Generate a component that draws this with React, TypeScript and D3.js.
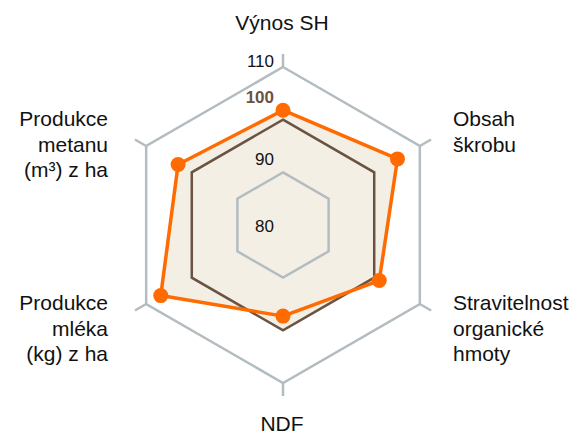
import React from "react";
import * as d3 from "d3";

const categories: string[][] = [
  ["Výnos SH"],
  ["Obsah", "škrobu"],
  ["Stravitelnost", "organické", "hmoty"],
  ["NDF"],
  ["Produkce", "mléka", "(kg) z ha"],
  ["Produkce", "metanu", "(m³) z ha"],
];
const seriesValues: number[] = [101.8, 105.1, 101.1, 97.3, 106.8, 103.0];
const baselineValues: number[] = [100, 100, 100, 100, 100, 100];
const gridLevels: number[] = [90, 110];
const tickLabels: number[] = [110, 100, 90, 80];

const W = 574;
const H = 435;
const cx = 283;
const cy = 225;
const R = 158;
const FONT = "'Liberation Sans', Arial, Helvetica, sans-serif";

export default function App() {
  const r = d3.scaleLinear().domain([80, 110]).range([0, R]);
  const n = categories.length;
  const angle = d3
    .scaleLinear()
    .domain([0, n])
    .range([-Math.PI / 2, (3 * Math.PI) / 2]);
  const pt = (i: number, v: number): [number, number] => [
    cx + r(v) * Math.cos(angle(i)),
    cy + r(v) * Math.sin(angle(i)),
  ];
  const line = d3.line<[number, number]>().curve(d3.curveLinearClosed);
  const poly = (vals: number[]) => line(vals.map((v, i) => pt(i, v)))!;

  const gray = "#b3bcc1";
  const brown = "#6b5343";
  const orange = "#ff6b00";
  const beige = "#f4efe4";

  const labelInfo = categories.map((lines, i) => {
    const a = angle(i);
    const c = Math.cos(a);
    let anchor = "middle";
    if (c > 0.1) anchor = "start";
    else if (c < -0.1) anchor = "end";
    return { lines, anchor, a };
  });

  const tickDy: Record<number, number> = { 110: 0, 100: -17, 90: -7, 80: 7 };

  return (
    <svg
      width={W}
      height={H}
      style={{ position: "absolute", left: 0, top: 0, background: "#fff" }}
      fontFamily={FONT}
    >
      <path d={poly(seriesValues)} fill={beige} stroke="none" />
      <path d={poly(baselineValues)} fill={beige} stroke="none" />
      {gridLevels.map((g) => (
        <path
          key={g}
          d={poly(categories.map(() => g))}
          fill="none"
          stroke={gray}
          strokeWidth={2.5}
        />
      ))}
      {categories.map((_, i) => {
        const [x1, y1] = pt(i, 110);
        const ext = r.invert(R + 13);
        const [x2, y2] = pt(i, ext);
        return (
          <line
            key={i}
            x1={x1}
            y1={y1}
            x2={x2}
            y2={y2}
            stroke={gray}
            strokeWidth={2.5}
          />
        );
      })}
      <path
        d={poly(baselineValues)}
        fill="none"
        stroke={brown}
        strokeWidth={2.5}
        strokeLinejoin="miter"
      />
      <path
        d={poly(seriesValues)}
        fill="none"
        stroke={orange}
        strokeWidth={3.5}
        strokeLinejoin="round"
      />
      {seriesValues.map((v, i) => {
        const [x, y] = pt(i, v);
        return <circle key={i} cx={x} cy={y} r={7.5} fill={orange} />;
      })}
      {tickLabels.map((t) => (
        <text
          key={t}
          x={cx - 9}
          y={cy - r(t) + tickDy[t]}
          textAnchor="end"
          fontSize={17}
          fontWeight={t === 100 ? "bold" : "normal"}
          fill={t === 100 ? brown : "#111"}
        >
          {t}
        </text>
      ))}
      <text x={cx - 1} y={30} textAnchor="middle" fontSize={21} fill="#111">
        {categories[0][0]}
      </text>
      <text x={cx - 1} y={431} textAnchor="middle" fontSize={21} fill="#111">
        {categories[3][0]}
      </text>
      {[1, 2].map((i) => (
        <text
          key={i}
          x={453}
          y={i === 1 ? 126 : 310}
          textAnchor="start"
          fontSize={21}
          fill="#111"
        >
          {labelInfo[i].lines.map((l, k) => (
            <tspan key={k} x={453} dy={k === 0 ? 0 : 25.5}>
              {l}
            </tspan>
          ))}
        </text>
      ))}
      {[4, 5].map((i) => (
        <text
          key={i}
          x={108}
          y={i === 5 ? 126 : 310}
          textAnchor="end"
          fontSize={21}
          fill="#111"
        >
          {labelInfo[i].lines.map((l, k) => (
            <tspan key={k} x={108} dy={k === 0 ? 0 : 25.5}>
              {l}
            </tspan>
          ))}
        </text>
      ))}
    </svg>
  );
}
